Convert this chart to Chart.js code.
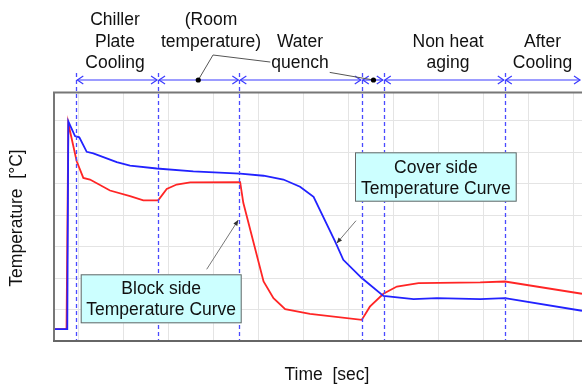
<!DOCTYPE html>
<html>
<head>
<meta charset="utf-8">
<script src="https://cdn.jsdelivr.net/npm/chart.js@4.4.0/dist/chart.umd.min.js"></script>
<style>
html,body{margin:0;padding:0;background:#fff;}
#wrap{width:582px;height:385px;}
</style>
</head>
<body>
<div id="wrap"><canvas id="c" width="582" height="385"></canvas></div>
<script>
// ---- data (x: time in grid units, y: temperature in grid units) ----
const coverX = [-0.53, -0.238, -0.215, -0.067, 0.029, 0.193, 0.34, 0.86, 1.155, 1.748, 2.56, 3.60, 4.12, 4.56, 4.93, 5.23, 5.71, 5.89, 6.30, 6.78, 7.45, 7.97, 8.93, 9.48, 11.19];
const coverY = [0.38, 0.38, 6.98, 6.51, 6.47, 6.01, 5.96, 5.68, 5.57, 5.48, 5.39, 5.32, 5.25, 5.13, 4.90, 4.58, 3.16, 2.58, 2.00, 1.43, 1.33, 1.36, 1.33, 1.36, 0.96];
const blockX = [-0.53, -0.255, -0.215, -0.178, -0.029, 0.118, 0.266, 0.71, 1.155, 1.45, 1.78, 1.97, 2.19, 2.49, 3.60, 3.67, 4.12, 4.34, 4.60, 5.15, 6.30, 6.48, 6.78, 7.08, 7.56, 8.93, 9.48, 11.19];
const blockY = [0.38, 0.38, 6.92, 6.67, 5.71, 5.18, 5.13, 4.78, 4.60, 4.47, 4.47, 4.83, 4.97, 5.04, 5.05, 4.39, 1.89, 1.36, 1.01, 0.86, 0.67, 1.09, 1.50, 1.73, 1.84, 1.86, 1.89, 1.50];
const phaseBounds = [-0.038, 1.777, 3.582, 6.300, 6.789, 9.476];
const roomTempDots = [2.67, 6.56];
const xRange = [-0.533, 11.19];
const yRange = [0, 7.91];
const phaseLabels = [
  {lines: ["Chiller", "Plate", "Cooling"], x: 115, rows: [0, 1, 2]},
  {lines: ["(Room", "temperature)"], x: 211, rows: [0, 1]},
  {lines: ["Water", "quench"], x: 300, rows: [1, 2]},
  {lines: ["Non heat", "aging"], x: 448, rows: [1, 2]},
  {lines: ["After", "Cooling"], x: 542.5, rows: [1, 2]}
];
const xTitle = "Time  [sec]";
const yTitle = "Temperature  [°C]";
const coverLabel = ["Cover side", "Temperature Curve"];
const blockLabel = ["Block side", "Temperature Curve"];

const toPts = (xs, ys) => xs.map((x, i) => ({x: x, y: ys[i]}));

const FONT = '17.5px "Liberation Sans", Arial, sans-serif';
const BLUE_DASH = '#4a4aff';

function arrowHead(ctx, x, y, dir, color, len, spread) {
  ctx.beginPath();
  ctx.moveTo(x + dir * len, y - spread);
  ctx.lineTo(x, y);
  ctx.lineTo(x + dir * len, y + spread);
  ctx.strokeStyle = color;
  ctx.stroke();
}
function leader(ctx, pts, color) {
  ctx.save();
  ctx.strokeStyle = color; ctx.lineWidth = 1;
  ctx.beginPath();
  ctx.moveTo(pts[0][0], pts[0][1]);
  for (let i = 1; i < pts.length; i++) ctx.lineTo(pts[i][0], pts[i][1]);
  ctx.stroke();
  // small filled arrow head at last point
  const [x1, y1] = pts[pts.length - 2], [x2, y2] = pts[pts.length - 1];
  const a = Math.atan2(y2 - y1, x2 - x1);
  ctx.fillStyle = '#333';
  ctx.beginPath();
  ctx.moveTo(x2, y2);
  ctx.lineTo(x2 - 6 * Math.cos(a - 0.4), y2 - 6 * Math.sin(a - 0.4));
  ctx.lineTo(x2 - 6 * Math.cos(a + 0.4), y2 - 6 * Math.sin(a + 0.4));
  ctx.closePath(); ctx.fill();
  ctx.restore();
}
function callout(ctx, box, lines, ys) {
  ctx.save();
  ctx.fillStyle = '#ccffff';
  ctx.fillRect(box[0], box[1], box[2] - box[0], box[3] - box[1]);
  ctx.strokeStyle = '#666'; ctx.lineWidth = 1;
  ctx.strokeRect(box[0] + 0.5, box[1] + 0.5, box[2] - box[0] - 1, box[3] - box[1] - 1);
  ctx.fillStyle = '#111'; ctx.font = FONT;
  ctx.textAlign = 'center'; ctx.textBaseline = 'middle';
  const cx = (box[0] + box[2]) / 2;
  lines.forEach((t, i) => ctx.fillText(t, cx, ys[i]));
  ctx.restore();
}

const deco = {
  id: 'deco',
  afterDatasetsDraw(chart) {
    const ctx = chart.ctx, xs = chart.scales.x, a = chart.chartArea;
    ctx.save();
    // dashed phase lines
    ctx.strokeStyle = BLUE_DASH; ctx.lineWidth = 1.3; ctx.setLineDash([4, 3]);
    phaseBounds.forEach(v => {
      const px = Math.round(xs.getPixelForValue(v)) + 0.5;
      ctx.beginPath(); ctx.moveTo(px, 73); ctx.lineTo(px, a.bottom); ctx.stroke();
    });
    ctx.setLineDash([]);
    // borders
    ctx.strokeStyle = '#777'; ctx.lineWidth = 2;
    ctx.beginPath(); ctx.moveTo(a.right, a.top + 0.5); ctx.lineTo(a.left, a.top + 0.5); ctx.lineTo(a.left, a.bottom); ctx.stroke();
    ctx.strokeStyle = '#666'; ctx.lineWidth = 2;
    ctx.beginPath(); ctx.moveTo(a.left - 1, a.bottom); ctx.lineTo(a.right, a.bottom); ctx.stroke();
    ctx.restore();
  },
  afterDraw(chart) {
    const ctx = chart.ctx, xs = chart.scales.x, a = chart.chartArea;
    ctx.save();
    const ay = 80;
    // phase arrows
    const bounds = phaseBounds.map(v => xs.getPixelForValue(v)).concat([a.right - 1]);
    ctx.lineWidth = 1.2;
    for (let i = 0; i < bounds.length - 1; i++) {
      const l = bounds[i] + 1, r = bounds[i + 1] - 1;
      ctx.strokeStyle = '#3a3aff';
      ctx.beginPath(); ctx.moveTo(l, ay); ctx.lineTo(r, ay); ctx.stroke();
      arrowHead(ctx, l, ay, 1, '#3a3aff', 6, 4);
      arrowHead(ctx, r, ay, -1, '#3a3aff', 6, 4);
    }
    // leader lines for room temperature
    ctx.strokeStyle = '#555'; ctx.lineWidth = 1;
    const d1 = xs.getPixelForValue(roomTempDots[0]), d2 = xs.getPixelForValue(roomTempDots[1]);
    ctx.beginPath(); ctx.moveTo(213, 55); ctx.lineTo(d1, ay); ctx.stroke();
    ctx.beginPath(); ctx.moveTo(213, 55); ctx.lineTo(270, 62); ctx.lineTo(d2, ay); ctx.stroke();
    ctx.fillStyle = '#000';
    [d1, d2].forEach(d => { ctx.beginPath(); ctx.arc(d, ay, 2.6, 0, Math.PI * 2); ctx.fill(); });
    // phase labels
    ctx.font = FONT; ctx.textAlign = 'center'; ctx.textBaseline = 'middle';
    const rowY = [20, 41.7, 63.3];
    phaseLabels.forEach(p => {
      p.lines.forEach((t, i) => {
        const w = ctx.measureText(t).width;
        ctx.fillStyle = '#fff';
        if (p.lines[0] === 'Water') ctx.fillRect(p.x - w / 2 - 1, rowY[p.rows[i]] - 10, w + 2, 21);
        ctx.fillStyle = '#111';
        ctx.fillText(t, p.x, rowY[p.rows[i]]);
      });
    });
    // axis titles
    ctx.fillText(xTitle, 327, 375);
    ctx.save(); ctx.translate(17, 218); ctx.rotate(-Math.PI / 2); ctx.fillText(yTitle, 0, 0); ctx.restore();
    // callouts
    leader(ctx, [[206.7, 269.3], [238.3, 220]], '#777');
    leader(ctx, [[356, 220.7], [336.7, 243.3]], '#777');
    callout(ctx, [80.7, 274.3, 241.7, 323.3], blockLabel, [289.5, 310.5]);
    callout(ctx, [355, 152.3, 516.7, 201.7], coverLabel, [168, 189]);
    ctx.restore();
  }
};

const intTicks = (lo, hi) => scale => {
  const t = [];
  for (let v = Math.ceil(scale.min); v <= scale.max; v++) if (v > lo && v < hi) t.push({value: v});
  scale.ticks = t;
};

new Chart(document.getElementById('c'), {
  type: 'scatter',
  data: {
    datasets: [
      {label: 'Cover side', data: toPts(coverX, coverY), showLine: true, borderColor: '#2222ff', borderWidth: 1.8, pointRadius: 0, tension: 0, fill: false},
      {label: 'Block side', data: toPts(blockX, blockY), showLine: true, borderColor: '#ff2525', borderWidth: 1.8, pointRadius: 0, tension: 0, fill: false}
    ]
  },
  options: {
    responsive: false,
    animation: false,
    events: [],
    layout: {padding: {left: 54, top: 92, right: 0, bottom: 44}},
    plugins: {legend: {display: false}, tooltip: {enabled: false}},
    scales: {
      x: {type: 'linear', min: xRange[0], max: xRange[1],
          afterBuildTicks: intTicks(-1, 11.1),
          grid: {color: '#e4e4e4', lineWidth: 1, drawTicks: false},
          border: {display: false}, ticks: {display: false}},
      y: {type: 'linear', min: yRange[0], max: yRange[1],
          afterBuildTicks: intTicks(0, 7.5),
          grid: {color: '#e4e4e4', lineWidth: 1, drawTicks: false},
          border: {display: false}, ticks: {display: false}}
    }
  },
  plugins: [deco]
});
</script>
</body>
</html>
